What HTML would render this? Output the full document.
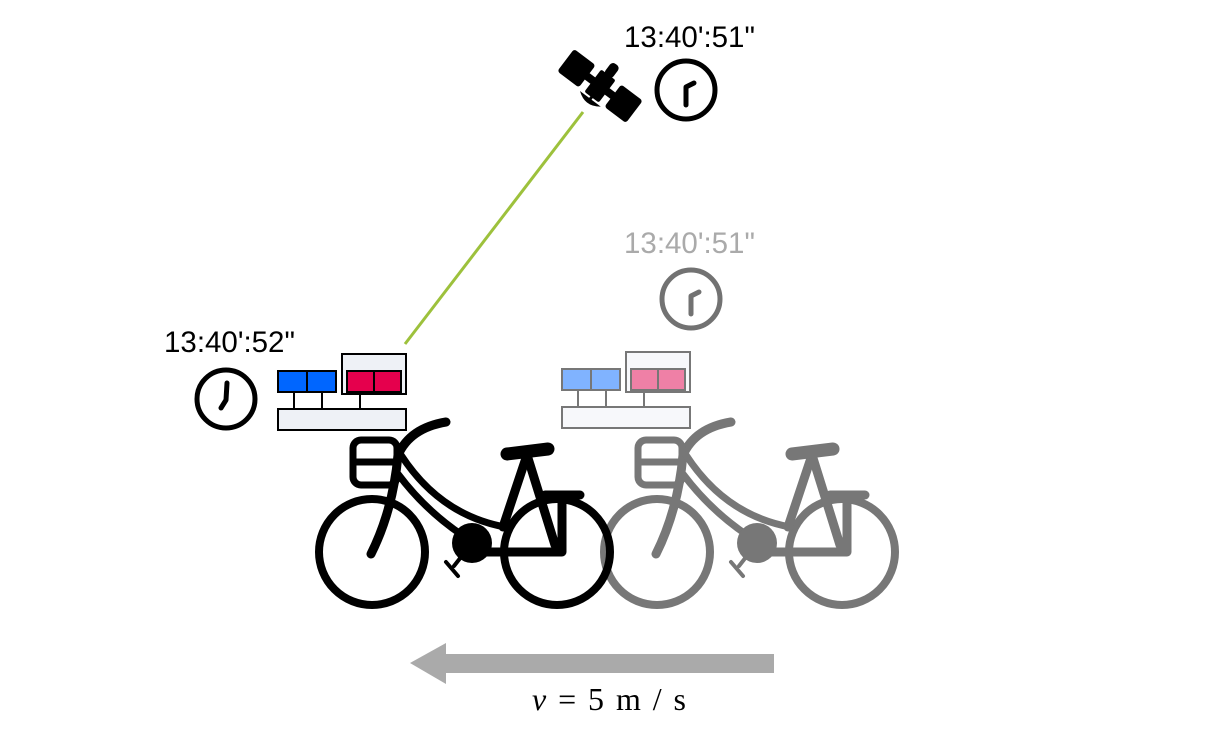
<!DOCTYPE html>
<html><head><meta charset="utf-8"><style>
html,body{margin:0;padding:0;background:#fff;}
svg{display:block;}
</style></head><body>
<svg width="1227" height="754" viewBox="0 0 1227 754" xmlns="http://www.w3.org/2000/svg">
<defs>
<g id="bike" fill="none" stroke-linecap="round" stroke-linejoin="round">
  <circle cx="372" cy="552" r="53" stroke-width="8"/>
  <circle cx="557" cy="552" r="53" stroke-width="8"/>
  <path d="M371 554 Q393 510 398 455 Q410 428 446 422" stroke-width="9"/>
  <rect x="353" y="440" width="44" height="45" rx="8" stroke-width="7"/>
  <line x1="355" y1="462" x2="396" y2="462" stroke-width="7"/>
  <path d="M401 455 Q440 515 505 527" stroke-width="7"/>
  <path d="M398 474 Q425 510 462 535" stroke-width="7"/>
  <path d="M527 455 L503 527" stroke-width="9"/>
  <path d="M527 455 L555 545" stroke-width="9"/>
  <path d="M472 552 L562 552 L562 497" stroke-width="9" stroke-linecap="butt"/>
  <line x1="545" y1="495" x2="580" y2="495" stroke-width="9"/>
  <line x1="507" y1="454" x2="548" y2="449" stroke-width="13"/>
  <line x1="472" y1="543" x2="454" y2="566" stroke-width="4"/>
  <line x1="446" y1="562" x2="458" y2="576" stroke-width="4"/>
</g>
<g id="chainring"><circle cx="472" cy="543" r="20"/></g>
</defs>

<line x1="405" y1="344" x2="583" y2="112" stroke="#9dc13c" stroke-width="3"/>

<g transform="translate(600,86) rotate(37)" fill="#000">
  <rect x="-43" y="-14" width="27" height="28" rx="3"/>
  <rect x="16" y="-14" width="27" height="28" rx="3"/>
  <rect x="-18" y="-4" width="36" height="8"/>
  <rect x="-9" y="-14" width="18" height="28" rx="2"/>
  <rect x="-5" y="-27" width="10" height="15" rx="4"/>
  <path d="M-13 16 Q0 26 13 16 Z"/>
  <line x1="0" y1="12" x2="0" y2="18" stroke="#000" stroke-width="3"/>
</g>

<g style="font-family:'Liberation Sans',sans-serif" font-size="29.5">
<text x="624" y="47" fill="#000">13:40':51"</text>
<text x="624" y="253" fill="#aaaaaa">13:40':51"</text>
<text x="164" y="352" fill="#000">13:40':52"</text>
</g>

<circle cx="686" cy="90" r="29" fill="none" stroke="#000" stroke-width="5"/>
<path d="M686 105 L686 87 L694 83" fill="none" stroke="#000" stroke-width="5" stroke-linecap="round" stroke-linejoin="round"/>

<g opacity="0.55">
<circle cx="691" cy="299" r="29" fill="none" stroke="#000" stroke-width="5"/>
<path d="M691 314 L691 296 L699 292" fill="none" stroke="#000" stroke-width="5" stroke-linecap="round" stroke-linejoin="round"/>
</g>

<circle cx="226" cy="399" r="29" fill="none" stroke="#000" stroke-width="5"/>
<path d="M227 383 L226 400 L221 408" fill="none" stroke="#000" stroke-width="5" stroke-linecap="round" stroke-linejoin="round"/>

<g stroke="#000" stroke-width="2">
  <rect x="278" y="409" width="128" height="21" fill="#eef1f6"/>
  <line x1="294" y1="392" x2="294" y2="409"/>
  <line x1="322" y1="392" x2="322" y2="409"/>
  <line x1="360" y1="392" x2="360" y2="409"/>
  <rect x="342" y="354" width="64" height="40" fill="#eef1f6"/>
  <rect x="278" y="371" width="29" height="21" fill="#0066ff"/>
  <rect x="307" y="371" width="29" height="21" fill="#0066ff"/>
  <rect x="347" y="371" width="27" height="21" fill="#e5004d"/>
  <rect x="374" y="371" width="27" height="21" fill="#e5004d"/>
</g>
<g stroke="#777" stroke-width="2" transform="translate(284,-2)">
  <rect x="278" y="409" width="128" height="21" fill="#f7f8fb"/>
  <line x1="294" y1="392" x2="294" y2="409"/>
  <line x1="322" y1="392" x2="322" y2="409"/>
  <line x1="360" y1="392" x2="360" y2="409"/>
  <rect x="342" y="354" width="64" height="40" fill="#f7f8fb"/>
  <rect x="278" y="371" width="29" height="21" fill="#80b3ff"/>
  <rect x="307" y="371" width="29" height="21" fill="#80b3ff"/>
  <rect x="347" y="371" width="27" height="21" fill="#ef80a6"/>
  <rect x="374" y="371" width="27" height="21" fill="#ef80a6"/>
</g>

<g transform="translate(285,0)">
  <use href="#bike" stroke="#777"/>
  <use href="#chainring" fill="#777"/>
</g>
<g>
  <use href="#bike" stroke="#000"/>
  <use href="#chainring" fill="#000"/>
</g>

<rect x="445" y="654" width="329" height="19" fill="#aaaaaa"/>
<polygon points="410,663 446,643 446,684" fill="#aaaaaa"/>
<text x="532" y="710" font-size="32" textLength="154" lengthAdjust="spacing" style="font-family:'Liberation Serif',serif" fill="#000"><tspan font-style="italic">v</tspan> = 5 m / s</text>
</svg>
</body></html>
